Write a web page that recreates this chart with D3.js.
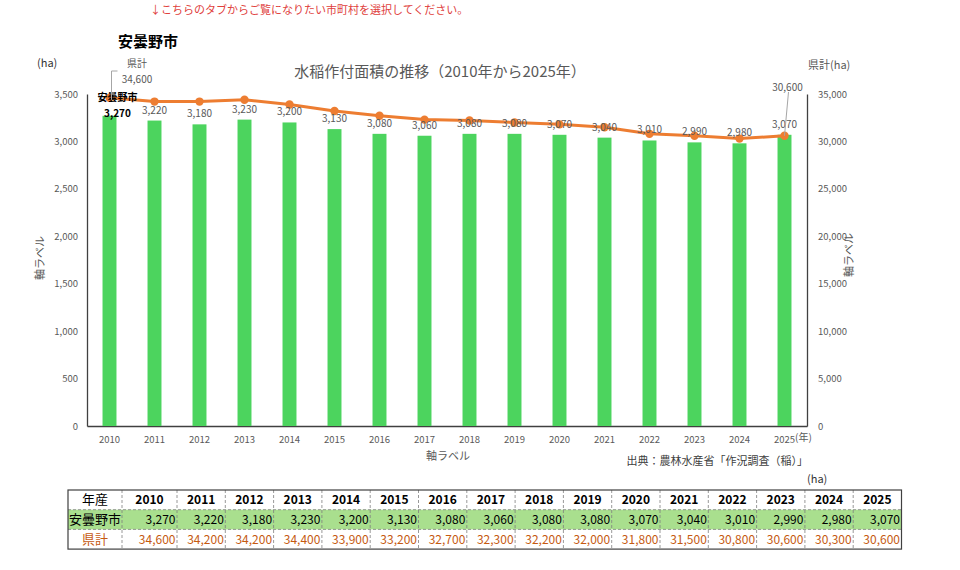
<!DOCTYPE html>
<html>
<head>
<meta charset="utf-8">
<script src="https://cdn.jsdelivr.net/npm/d3@7"></script>
<style>
  body { margin: 0; background: #fff; }
  svg text { font-family: "Noto Sans CJK JP", "Noto Sans", sans-serif; }
</style>
</head>
<body>
<div id="chart"></div>
<script>
var years = ["2010","2011","2012","2013","2014","2015","2016","2017","2018","2019","2020","2021","2022","2023","2024","2025"];
var cityValues = [3270,3220,3180,3230,3200,3130,3080,3060,3080,3080,3070,3040,3010,2990,2980,3070];
var prefValues = [34600,34200,34200,34400,33900,33200,32700,32300,32200,32000,31800,31500,30800,30600,30300,30600];
var leftTicks = [0,500,1000,1500,2000,2500,3000,3500];
var rightTicks = [0,5000,10000,15000,20000,25000,30000,35000];
var cityName = "安曇野市";
var prefName = "県計";

var fmt = d3.format(",");
var gray = "#595959";
var orange = "#ed7d31";
var green = "#4cd45e";

var svg = d3.select("#chart").append("svg")
  .attr("width", 960)
  .attr("height", 570);

var plotL = 87, plotR = 807, plotT = 94, plotB = 426;

var x = d3.scaleBand().domain(years).range([plotL, plotR]).paddingInner(0.69).paddingOuter(0.345);
var yL = d3.scaleLinear().domain([0, 3500]).range([plotB, plotT]);
var yR = d3.scaleLinear().domain([0, 35000]).range([plotB, plotT]);

// header texts
svg.append("text")
  .text("↓こちらのタブからご覧になりたい市町村を選択してください。")
  .attr("x", 150).attr("y", 14)
  .style("font-size", "11px")
  .attr("fill", "#e0403c");

svg.append("text")
  .text(cityName)
  .attr("x", 118).attr("y", 47)
  .style("font-size", "15px")
  .style("font-weight", "bold")
  .attr("fill", "#000");

svg.append("text")
  .text("水稲作付面積の推移（2010年から2025年）")
  .attr("x", 440).attr("y", 77)
  .attr("text-anchor", "middle")
  .style("font-size", "15px")
  .attr("fill", gray);

svg.append("text").text("(ha)")
  .attr("x", 37).attr("y", 67)
  .style("font-size", "11px").attr("fill", "#333");

svg.append("text").text("県計(ha)")
  .attr("x", 808).attr("y", 69)
  .style("font-size", "11px").attr("fill", gray);

// axes
var axL = d3.axisLeft(yL).tickValues(leftTicks).tickFormat(fmt).tickSize(0).tickPadding(9);
var gL = svg.append("g").attr("transform", "translate(" + plotL + ",0)").call(axL);
var axR = d3.axisRight(yR).tickValues(rightTicks).tickFormat(fmt).tickSize(0).tickPadding(11);
var gR = svg.append("g").attr("transform", "translate(" + plotR + ",0)").call(axR);
var axB = d3.axisBottom(x).tickSize(0).tickPadding(10);
var gB = svg.append("g").attr("transform", "translate(0," + plotB + ")").call(axB);

[gL, gR, gB].forEach(function(g) {
  g.select(".domain").attr("stroke", "#404040").attr("stroke-width", 1.3);
  g.selectAll("text").attr("fill", gray).style("font-size", "9.5px")
    .style("font-family", "\"Noto Sans CJK JP\", sans-serif");
});

// axis titles
svg.append("text").text("軸ラベル")
  .attr("transform", "translate(44,258) rotate(-90)")
  .attr("text-anchor", "middle")
  .style("font-size", "11px").attr("fill", gray);

svg.append("text").text("軸ラベル")
  .attr("transform", "translate(853,255) rotate(-90)")
  .attr("text-anchor", "middle")
  .style("font-size", "11px").attr("fill", gray);

svg.append("text").text("軸ラベル")
  .attr("x", 448).attr("y", 460)
  .attr("text-anchor", "middle")
  .style("font-size", "11px").attr("fill", gray);

svg.append("text").text("(年)")
  .attr("x", 795).attr("y", 441)
  .style("font-size", "10px").attr("fill", gray);

svg.append("text").text("出典：農林水産省「作況調査（稲）」")
  .attr("x", 808).attr("y", 465)
  .attr("text-anchor", "end")
  .style("font-size", "11px").attr("fill", "#404040");

// bars
svg.selectAll("rect.bar")
  .data(cityValues)
  .enter().append("rect")
  .attr("class", "bar")
  .attr("x", function(d, i) { return x(years[i]); })
  .attr("width", x.bandwidth())
  .attr("y", function(d) { return yL(d); })
  .attr("height", function(d) { return plotB - yL(d); })
  .attr("fill", green);

// line
var line = d3.line()
  .x(function(d, i) { return x(years[i]) + x.bandwidth() / 2; })
  .y(function(d) { return yR(d); });

svg.append("path")
  .datum(prefValues)
  .attr("d", line)
  .attr("fill", "none")
  .attr("stroke", orange)
  .attr("stroke-width", 3);

svg.selectAll("circle.pt")
  .data(prefValues)
  .enter().append("circle")
  .attr("class", "pt")
  .attr("cx", function(d, i) { return x(years[i]) + x.bandwidth() / 2; })
  .attr("cy", function(d) { return yR(d); })
  .attr("r", 4.2)
  .attr("fill", orange);

// bar labels
svg.selectAll("text.blab")
  .data(cityValues)
  .enter().append("text")
  .attr("class", "blab")
  .text(function(d) { return fmt(d); })
  .attr("x", function(d, i) { return x(years[i]) + x.bandwidth() / 2 + (i === 0 ? 8 : 0); })
  .attr("y", function(d, i) { return i === 0 ? yL(d) + 1 : yL(d) - 7; })
  .attr("text-anchor", "middle")
  .style("font-size", "10px")
  .style("font-weight", function(d, i) { return i === 0 ? "bold" : "normal"; })
  .attr("fill", function(d, i) { return i === 0 ? "#000" : gray; });

// series name label on the first bar
var cx0 = x(years[0]) + x.bandwidth() / 2;
svg.append("text").text(cityName)
  .attr("x", cx0 + 8).attr("y", 101)
  .attr("text-anchor", "middle")
  .style("font-size", "10px").style("font-weight", "bold")
  .attr("fill", "#000");

// line labels (first and last) with leader lines
var n = years.length - 1;
svg.append("path")
  .attr("d", "M" + (cx0 + 8) + "," + 71 + "H" + (cx0 + 2) + "V" + (yR(prefValues[0]) + 2))
  .attr("fill", "none").attr("stroke", "#a6a6a6").attr("stroke-width", 1);
svg.append("text").text(prefName)
  .attr("x", 137).attr("y", 67)
  .attr("text-anchor", "middle")
  .style("font-size", "10px").attr("fill", gray);
svg.append("text").text(fmt(prefValues[0]))
  .attr("x", 137).attr("y", 83)
  .attr("text-anchor", "middle")
  .style("font-size", "10px").attr("fill", gray);

var cxN = x(years[n]) + x.bandwidth() / 2;
svg.append("line")
  .attr("x1", cxN + 4).attr("y1", 92)
  .attr("x2", cxN).attr("y2", yR(prefValues[n]))
  .attr("stroke", "#a6a6a6");
svg.append("text").text(fmt(prefValues[n]))
  .attr("x", cxN + 3).attr("y", 91)
  .attr("text-anchor", "middle")
  .style("font-size", "10px").attr("fill", gray);

// table
var tx0 = 68, tcol0 = 54, tcol1 = 55, tcol = 48.3, ty0 = 490, rowH = 19.7;
var colX = [tx0, tx0 + tcol0];
for (var i = 1; i <= years.length; i++) {
  colX.push(tx0 + tcol0 + tcol1 + (i - 1) * tcol);
}
var tRight = colX[colX.length - 1];

svg.append("text").text("(ha)")
  .attr("x", 807).attr("y", 483)
  .style("font-size", "11px").attr("fill", "#333");

svg.append("rect")
  .attr("x", tx0).attr("y", ty0 + rowH)
  .attr("width", tRight - tx0).attr("height", rowH)
  .attr("fill", "#a9df8e");

// dashed inner lines
for (var j = 1; j < colX.length - 1; j++) {
  svg.append("line")
    .attr("x1", colX[j]).attr("x2", colX[j])
    .attr("y1", ty0).attr("y2", ty0 + 3 * rowH)
    .attr("stroke", "#7f7f7f").attr("stroke-dasharray", "3,2").attr("stroke-width", 0.8);
}
[1, 2].forEach(function(r) {
  svg.append("line")
    .attr("x1", tx0).attr("x2", tRight)
    .attr("y1", ty0 + r * rowH).attr("y2", ty0 + r * rowH)
    .attr("stroke", "#7f7f7f").attr("stroke-dasharray", "3,2").attr("stroke-width", 0.8);
});
svg.append("rect")
  .attr("x", tx0).attr("y", ty0)
  .attr("width", tRight - tx0).attr("height", 3 * rowH)
  .attr("fill", "none").attr("stroke", "#404040").attr("stroke-width", 1.2);

var rows = [
  { label: "年産", vals: years, color: "#000", bold: true, labelColor: "#000" },
  { label: cityName, vals: cityValues.map(fmt), color: "#000", bold: false, labelColor: "#000" },
  { label: prefName, vals: prefValues.map(fmt), color: "#c55a11", bold: false, labelColor: "#c55a11" }
];
rows.forEach(function(row, r) {
  var yy = ty0 + r * rowH + rowH / 2 + 4.5;
  svg.append("text").text(row.label)
    .attr("x", (colX[0] + colX[1]) / 2).attr("y", yy)
    .attr("text-anchor", "middle")
    .style("font-size", "13px")
    .attr("fill", row.labelColor);
  row.vals.forEach(function(v, k) {
    svg.append("text").text(v)
      .attr("x", r === 0 ? (colX[k + 1] + colX[k + 2]) / 2 : colX[k + 2] - 1.5)
      .attr("y", yy)
      .attr("text-anchor", r === 0 ? "middle" : "end")
      .style("font-size", "12px")
      .style("font-weight", row.bold ? "bold" : "normal")
      .attr("fill", row.color);
  });
});
</script>
</body>
</html>
